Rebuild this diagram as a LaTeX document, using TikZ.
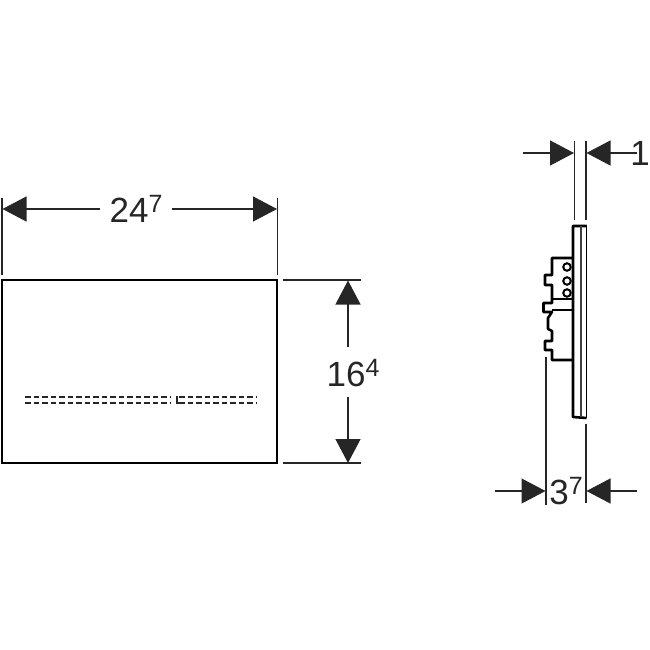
\documentclass[tikz,border=0pt]{standalone}
\usepackage{fontspec}
\setmainfont{Liberation Sans}
\usetikzlibrary{arrows.meta, positioning}
\newcommand{\hochzahl}[1]{\raisebox{10pt}{\fontsize{25}{25}\selectfont #1}}

\begin{document}
\begin{tikzpicture}[
        x=1pt, y=-1pt,
        thin line/.style={line width=1.2pt, black!85},
        thick line/.style={line width=2.6pt, black},
        dim arrow/.style={line width=1.2pt, black!85, -{Triangle[length=24pt,width=25pt]}},
        dim label/.style={inner sep=0pt, text=black!85, font=\fontsize{35}{35}\selectfont},
        slot/.style={line width=2.2pt, black!85, dash pattern=on 5.5pt off 3pt},
        lug/.style={circle, draw, line width=2pt, inner sep=0pt, minimum size=7.5pt}
    ]
    \useasboundingbox (0,0) rectangle (650,650);

    % front plate
    \node[draw, line width=2.6pt, inner sep=0pt, minimum width=275pt, minimum height=183pt] (plate) at (139.5,371.5) {};
    \draw[slot] (25,397) -- (171,397);
    \draw[slot] (25,403) -- (171,403);
    \draw[slot] (179,397) -- (257,397);
    \draw[slot] (179,403) -- (257,403);
    \draw[line width=2pt, black!85] (177,396) -- (177,403) -- (181,403);

    % width
    \coordinate (wl top) at (2,198);
    \coordinate (wl bot) at (2,275);
    \coordinate (wr top) at (277.5,198);
    \coordinate (wr bot) at (277.5,275);
    \coordinate (w left) at (2.5,209);
    \coordinate (w right) at (277,209);
    \draw[thin line] (wl top) -- (wl bot);
    \draw[thin line] (wr top) -- (wr bot);
    \node[dim label] (width) at (136,209) {24\hochzahl{7}};
    \coordinate (w a) at (100,209);
    \coordinate (w b) at (172,209);
    \draw[dim arrow] (w a) -- (w left);
    \draw[dim arrow] (w b) -- (w right);

    % height
    \coordinate (ht a) at (283,280);
    \coordinate (ht b) at (361,280);
    \coordinate (hb a) at (283,463);
    \coordinate (hb b) at (361,463);
    \coordinate (h top) at (348,280.5);
    \coordinate (h bot) at (348,463);
    \draw[thin line] (ht a) -- (ht b);
    \draw[thin line] (hb a) -- (hb b);
    \node[dim label] (height) at (353,373) {16\hochzahl{4}};
    \coordinate (h a) at (348,347);
    \coordinate (h b) at (348,397);
    \draw[dim arrow] (h a) -- (h top);
    \draw[dim arrow] (h b) -- (h bot);

    % side view
    \draw[thick line, line join=round] (586.5,226) -- (573,226) -- (573,417) -- (586.5,418);
    \draw[line width=1.6pt] (586.5,225) -- (586.5,418);
    \draw[line width=1.4pt, black!75] (581,226) -- (581,417);
    \draw[thick line, line join=round] (572,258) -- (552,258) -- (552,275) -- (545,275) -- (545,285) -- (552,285)
        -- (552,303) -- (543.5,303) -- (543.5,312) -- (552,312) -- (548,318) -- (548,329) -- (552,331) -- (552,341)
        -- (545,341) -- (545,350) -- (552,350) -- (552,360) -- (572,360);
    \draw[line width=1.7pt] (552,310) -- (572,310);
    \draw[line width=1.1pt] (552,299) -- (572,299);
    \node[lug] (hole a) at (567,267) {};
    \node[lug] (hole b) at (567,281) {};
    \node[lug] (hole c) at (567,293) {};

    % thickness
    \coordinate (tl top) at (574.5,141);
    \coordinate (tl bot) at (574.5,220);
    \coordinate (tr top) at (586,141);
    \coordinate (tr bot) at (586,220);
    \draw[thin line] (tl top) -- (tl bot);
    \draw[thin line] (tr top) -- (tr bot);
    \coordinate (t a) at (523,153);
    \coordinate (t b) at (637,153);
    \coordinate (t left) at (574,153);
    \coordinate (t right) at (586.5,153);
    \draw[dim arrow] (t a) -- (t left);
    \draw[dim arrow] (t b) -- (t right);
    \node[dim label, anchor=east] (thick) at (650,153) {1};

    % depth
    \coordinate (dl top) at (546,357);
    \coordinate (dl bot) at (546,505);
    \coordinate (dr top) at (586,424);
    \coordinate (dr bot) at (586,503);
    \draw[thin line] (dl top) -- (dl bot);
    \draw[thin line] (dr top) -- (dr bot);
    \coordinate (d a) at (495,491);
    \coordinate (d b) at (637,491);
    \coordinate (d left) at (545.5,491);
    \coordinate (d right) at (586.5,491);
    \draw[dim arrow] (d a) -- (d left);
    \draw[dim arrow] (d b) -- (d right);
    \node[dim label] (depth) at (566,491) {3\hochzahl{7}};
\end{tikzpicture}
\end{document}
